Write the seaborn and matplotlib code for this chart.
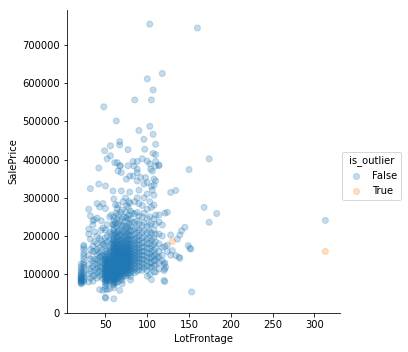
import matplotlib
matplotlib.use("Agg")
import matplotlib.pyplot as plt
from matplotlib.lines import Line2D
import seaborn as sns
import pandas as pd

# ---- data (LotFrontage, SalePrice in thousands) ----
lot_frontage = [
    21, 21, 21, 21, 21, 21, 21, 21, 21, 21, 21, 21, 21, 21, 21, 21, 21, 21,
    24, 24, 24, 24, 24, 24, 24, 24, 24, 24, 24, 24, 24, 24, 24, 24,
    30, 30, 30, 30, 30, 30, 30,
    32, 32, 32, 32, 32, 32, 32, 32,
    35, 35, 35, 35, 35, 35, 35, 35,
    37, 37, 37, 37, 37, 37, 37, 37,
    40, 40, 40, 40, 40, 40, 40, 40, 40, 40, 40,
    42, 42,
    43, 43, 43, 43, 43, 43, 43, 43, 43, 43,
    45, 45, 45, 45, 45, 45, 45, 45,
    47, 47, 47, 47, 47, 47, 47, 47, 47,
    48, 48, 48,
    49,
    50, 50, 50, 50, 50, 50, 50, 50, 50, 50, 50, 50, 50, 50, 50, 50,
    50, 50, 50, 50, 50, 50, 50, 50, 50, 50, 50, 50, 50, 50, 50, 50,
    52, 52, 52, 52, 52, 52, 52, 52, 52, 52, 52, 52,
    52, 52, 52, 52, 52, 52, 52, 52, 52, 52, 52, 52,
    55, 55, 55, 55, 55, 55, 55, 55, 55, 55, 55,
    55, 55, 55, 55, 55, 55, 55, 55, 55, 55,
    56, 56,
    57, 57, 57, 57, 57, 57, 57, 57, 57, 57, 57, 57, 57, 57,
    59, 59, 59, 59, 59, 59, 59, 59, 59, 59, 59, 59, 59, 59, 59,
    60, 60, 60, 60, 60, 60, 60, 60, 60, 60, 60, 60, 60, 60, 60,
    60, 60, 60, 60, 60, 60, 60, 60, 60, 60, 60, 60, 60, 60, 60,
    60, 60, 60, 60, 60, 60, 60, 60, 60, 60, 60, 60, 60, 60, 60,
    61,
    62, 62, 62, 62, 62, 62, 62, 62, 62, 62, 62, 62, 62, 62, 62, 62, 62, 62,
    63, 63, 63, 63, 63, 63, 63, 63, 63, 63, 63, 63, 63, 63, 63, 63, 63, 63,
    64, 64, 64, 64, 64, 64, 64, 64, 64, 64, 64, 64, 64, 64, 64, 64, 64, 64,
    65, 65, 65, 65, 65, 65, 65, 65, 65, 65, 65, 65,
    65, 65, 65, 65, 65, 65, 65, 65, 65, 65, 65,
    67, 67, 67, 67, 67, 67, 67, 67, 67, 67, 67, 67,
    67, 67, 67, 67, 67, 67, 67, 67, 67, 67, 67,
    68, 68, 68, 68, 68, 68, 68, 68, 68, 68, 68,
    68, 68, 68, 68, 68, 68, 68, 68, 68, 68,
    69, 69,
    70, 70, 70, 70, 70, 70, 70, 70, 70, 70, 70, 70, 70, 70,
    70, 70, 70, 70, 70, 70, 70, 70, 70, 70, 70, 70, 70,
    71,
    72, 72, 72, 72, 72, 72, 72, 72, 72, 72, 72, 72, 72, 72, 72, 72, 72, 72,
    74, 74, 74, 74, 74, 74, 74, 74, 74, 74, 74, 74, 74, 74, 74, 74, 74, 74,
    75, 75, 75, 75, 75, 75, 75, 75, 75, 75,
    75, 75, 75, 75, 75, 75, 75, 75, 75, 75,
    77, 77, 77, 77, 77, 77, 77, 77, 77, 77,
    77, 77, 77, 77, 77, 77, 77, 77, 77,
    78, 78, 78, 78, 78, 78, 78, 78, 78, 78, 78, 78, 78, 78, 78, 78, 78,
    79, 79, 79,
    80, 80, 80, 80, 80, 80, 80, 80, 80, 80, 80,
    80, 80, 80, 80, 80, 80, 80, 80, 80, 80,
    82, 82, 82, 82, 82, 82, 82, 82, 82, 82, 82, 82, 82, 82, 82,
    83, 83,
    84,
    85, 85, 85, 85, 85, 85, 85, 85, 85, 85, 85, 85, 85, 85, 85, 85, 85, 85,
    88, 88, 88, 88, 88, 88, 88, 88, 88, 88,
    88, 88, 88, 88, 88, 88, 88, 88, 88, 88,
    90, 90, 90, 90, 90, 90, 90, 90, 90, 90, 90, 90, 90, 90, 90, 90,
    92,
    94, 94, 94, 94, 94, 94, 94, 94, 94, 94, 94, 94, 94, 94,
    96, 96, 96, 96, 96, 96, 96, 96, 96, 96, 96, 96, 96, 96,
    97,
    98,
    100, 100, 100, 100, 100, 100, 100, 100, 100, 100, 100, 100, 100, 100, 100, 100, 100,
    103, 103, 103, 103, 103, 103, 103, 103, 103, 103, 103, 103, 103, 103, 103,
    104,
    105, 105, 105, 105, 105, 105, 105, 105, 105, 105, 105, 105,
    106, 106,
    107, 107, 107,
    108, 108, 108, 108, 108, 108, 108, 108, 108, 108, 108, 108, 108,
    110, 110, 110, 110, 110, 110, 110, 110, 110, 110, 110, 110, 110, 110,
    112,
    114, 114, 114, 114, 114, 114, 114, 114, 114, 114,
    118, 118, 118, 118, 118, 118,
    120, 120, 120,
    121, 121, 121, 121, 121,
    122,
    124, 124, 124,
    128, 128, 128,
    130,
    134, 134,
    136,
    138,
    139, 139,
    141,
    145,
    149,
    150,
    151,
    152,
    153,
    160,
    168,
    174, 174,
    183,
    313,
    # outliers
    130,
    313,
]

sale_price_k = [
    75, 77, 79, 81, 83, 84, 86, 88, 90, 92, 94, 97, 100, 104, 108, 114, 120, 127,
    80, 84, 88, 93, 99, 105, 112, 118, 125, 131, 140, 148, 155, 165, 172, 176,
    270, 218, 205, 150, 125, 100, 80,
    324, 253, 192, 165, 140, 115, 108, 90,
    240, 229, 174, 160, 135, 120, 95, 82,
    243, 211, 185, 160, 140, 128, 110, 98,
    285, 247, 200, 180, 165, 150, 138, 125, 115, 105, 90,
    378, 336,
    276, 194, 170, 155, 145, 132, 120, 108, 95, 60,
    240, 215, 188, 162, 148, 135, 118, 100,
    285, 221, 178, 150, 130, 115, 102, 88, 58,
    538, 180, 140,
    423,
    331, 272, 216, 195, 175, 160, 150, 145, 140, 135, 130, 127, 124, 120, 117, 114,
    111, 108, 105, 102, 99, 96, 93, 90, 87, 84, 80, 76, 70, 62, 38, 40,
    402, 230, 200, 185, 165, 155, 148, 140, 136, 132, 128, 124,
    120, 116, 112, 108, 104, 100, 96, 92, 88, 84, 78, 60,
    250, 210, 190, 172, 160, 150, 145, 140, 135, 130, 125,
    120, 115, 110, 105, 100, 95, 90, 85, 80, 62,
    436, 410,
    255, 205, 180, 165, 155, 145, 138, 130, 122, 115, 108, 100, 92, 85,
    318, 230, 190, 175, 162, 150, 140, 132, 125, 118, 110, 102, 95, 88, 75,
    297, 250, 240, 230, 222, 215, 208, 202, 196, 190, 185, 180, 176, 172, 168,
    164, 160, 156, 152, 148, 145, 142, 139, 136, 133, 130, 127, 124, 121, 118,
    115, 112, 109, 106, 103, 100, 97, 94, 90, 86, 82, 78, 72, 65, 36,
    392,
    282, 235, 205, 185, 170, 158, 150, 143, 137, 131, 126, 120, 114, 108, 101, 94, 86, 77,
    501, 260, 225, 198, 180, 166, 155, 147, 140, 134, 128, 122, 116, 110, 104, 97, 89, 81,
    392, 272, 245, 210, 192, 178, 168, 160, 153, 146, 139, 133, 127, 121, 115, 109, 102, 95,
    370, 281, 255, 232, 212, 198, 186, 176, 168, 161, 155, 149,
    143, 138, 133, 128, 123, 118, 112, 106, 99, 90, 80,
    447, 438, 383, 240, 215, 200, 188, 178, 170, 163, 156, 150,
    144, 139, 134, 129, 124, 119, 113, 107, 100, 92, 58,
    384, 262, 228, 206, 192, 181, 172, 164, 157, 151, 146,
    141, 136, 131, 126, 121, 115, 109, 103, 95, 86,
    366, 318,
    268, 245, 225, 212, 200, 190, 182, 175, 168, 162, 157, 152, 147, 142,
    138, 134, 130, 126, 122, 118, 114, 110, 105, 99, 92, 84, 75,
    290,
    250, 228, 210, 196, 185, 176, 168, 160, 153, 146, 140, 134, 128, 122, 116, 110, 103, 95,
    300, 262, 238, 218, 203, 190, 180, 171, 163, 155, 148, 141, 135, 129, 123, 117, 110, 102,
    349, 280, 248, 226, 210, 197, 186, 177, 169, 162,
    155, 149, 143, 137, 131, 125, 119, 112, 105, 96,
    426, 384, 275, 245, 222, 205, 192, 181, 172, 164,
    157, 150, 144, 138, 132, 126, 119, 111, 100,
    290, 255, 232, 214, 200, 188, 178, 170, 162, 155, 148, 141, 134, 127, 120, 112, 104,
    357, 315, 286,
    265, 245, 228, 214, 202, 192, 183, 175, 168, 161, 155,
    149, 143, 137, 131, 125, 118, 111, 103, 94, 85,
    260, 235, 215, 200, 188, 177, 168, 160, 152, 145, 138, 131, 124, 116, 108,
    395, 357,
    383,
    556, 290, 258, 236, 218, 204, 192, 182, 173, 165, 157, 150, 143, 136, 129, 121, 113, 104,
    395, 375, 366, 344, 300, 262, 240, 222, 208, 196,
    186, 177, 168, 160, 152, 144, 136, 128, 118, 108,
    476, 320, 285, 252, 232, 215, 201, 189, 178, 168, 159, 150, 141, 132, 122, 112,
    353,
    402, 280, 250, 228, 210, 195, 182, 170, 160, 150, 140, 130, 120, 110,
    453, 336, 300, 260, 235, 215, 198, 184, 172, 160, 149, 138, 127, 116,
    427,
    353,
    611, 396, 340, 310, 270, 245, 225, 208, 193, 180, 168, 156, 145, 134, 122, 110, 95,
    754, 487, 389, 290, 250, 228, 210, 195, 180, 167, 154, 142, 130, 118, 100,
    375,
    556, 330, 275, 232, 208, 190, 175, 160, 146, 132, 118, 86,
    370, 320,
    582, 466, 416,
    349, 333, 307, 281, 245, 215, 195, 178, 162, 148, 135, 122, 106,
    440, 413, 395, 383, 344, 255, 230, 205, 185, 168, 152, 138, 125, 106,
    145,
    386, 384, 255, 237, 205, 180, 160, 145, 130, 114,
    625, 229, 200, 170, 150, 135,
    127, 110, 84,
    260, 173, 130, 114, 81,
    119,
    262, 176, 160,
    314, 203, 150,
    162,
    319, 149,
    192,
    145,
    203, 142,
    214,
    223,
    175,
    374,
    168,
    166,
    54,
    744,
    275,
    402, 236,
    259,
    241,
    # outliers
    186,
    160,
]

n_outliers = 2
is_outlier = ["False"] * (len(lot_frontage) - n_outliers) + ["True"] * n_outliers

assert len(lot_frontage) == len(sale_price_k), (len(lot_frontage), len(sale_price_k))

df = pd.DataFrame({
    "LotFrontage": lot_frontage,
    "SalePrice": [p * 1000 for p in sale_price_k],
    "is_outlier": is_outlier,
})

palette = {"False": "#1f77b4", "True": "#ff7f0e"}

W, H, DPI = 408, 352, 72
fig = plt.figure(figsize=(W / DPI, H / DPI), dpi=DPI)
ax = fig.add_axes([67 / W, 39 / H, 273 / W, 303 / H])

sns.scatterplot(
    data=df, x="LotFrontage", y="SalePrice", hue="is_outlier",
    hue_order=["False", "True"], palette=palette,
    s=36, alpha=0.25, linewidth=1, edgecolor="face", legend=False, ax=ax,
)

ax.set_xlim(4, 330.5)
ax.set_ylim(-1100, 791000)
ax.set_xticks([50, 100, 150, 200, 250, 300])
ax.set_yticks([0, 100000, 200000, 300000, 400000, 500000, 600000, 700000])
ax.set_xlabel("LotFrontage")
ax.set_ylabel("SalePrice")
sns.despine(ax=ax)

handles = [
    Line2D([], [], linestyle="", marker="o", markersize=6, markeredgewidth=1,
           markerfacecolor=palette[k], markeredgecolor=palette[k], alpha=0.25)
    for k in ["False", "True"]
]
fig.legend(handles, ["False", "True"], title="is_outlier",
           loc="center left", bbox_to_anchor=(342 / W, 176 / H),
           borderaxespad=0, handletextpad=0.6)

fig.savefig("out.png", dpi=DPI)
